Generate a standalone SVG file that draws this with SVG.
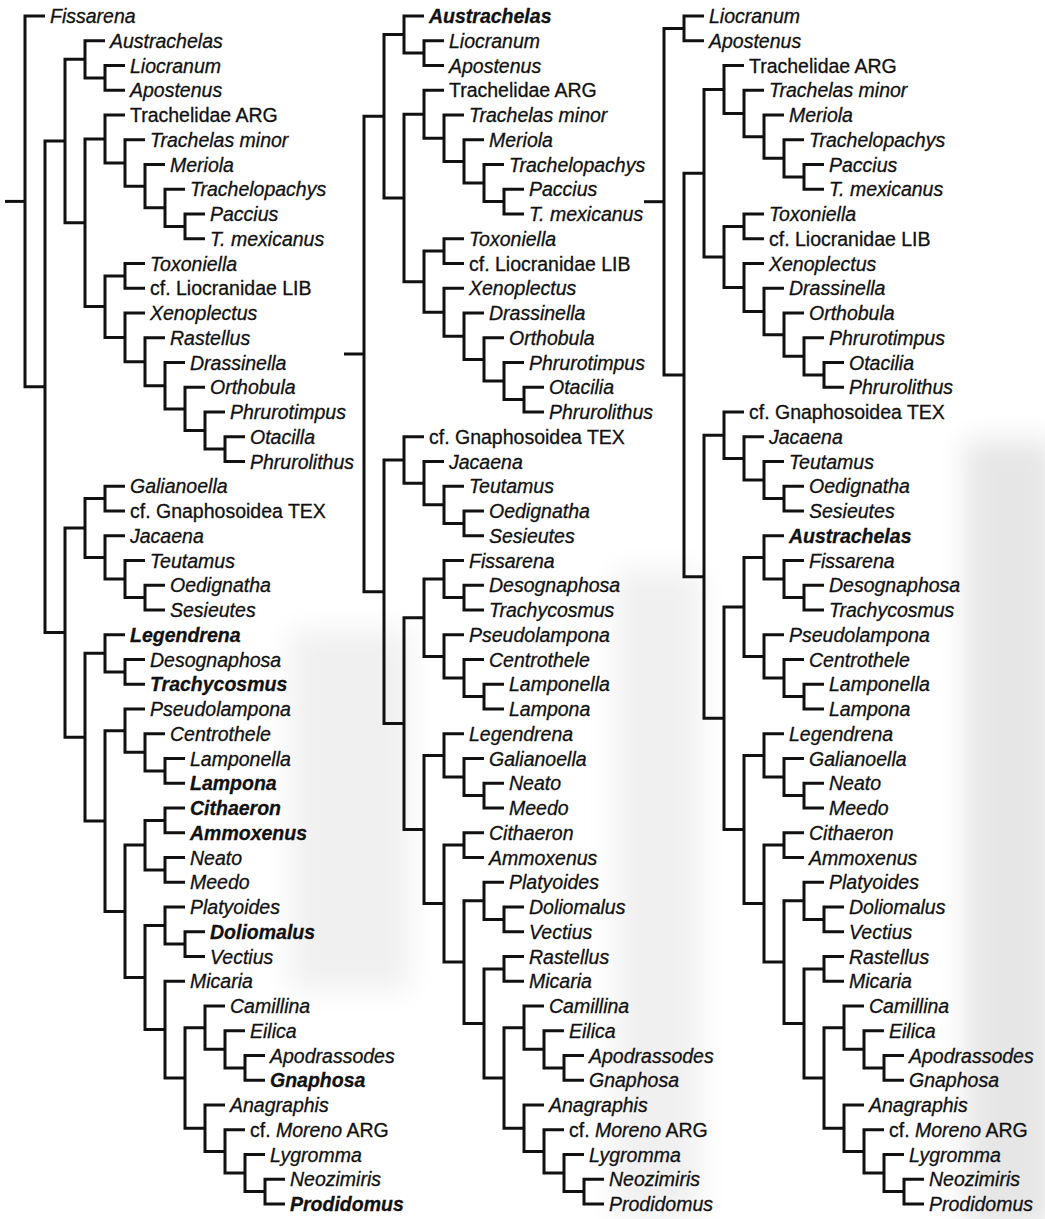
<svg xmlns="http://www.w3.org/2000/svg" width="1045" height="1219" viewBox="0 0 1045 1219">
<style>
text{font-family:"Liberation Sans",Arial,sans-serif;font-size:19.5px;fill:#111;stroke:#111;stroke-width:0.3px}
.i{font-style:italic}
.b{font-style:italic;font-weight:bold}
.n{font-style:normal}
.c path{fill:none;stroke:#111;stroke-width:3;stroke-linejoin:miter;stroke-linecap:butt}
</style>
<defs>
<filter id="blur" x="-20%" y="-20%" width="140%" height="140%"><feGaussianBlur stdDeviation="14"/></filter>
</defs>
<rect width="1045" height="1219" fill="#ffffff"/>
<g id="shading" filter="url(#blur)">
<rect x="965" y="440" width="90" height="790" fill="#e6e6e6"/>
<rect x="290" y="630" width="120" height="360" fill="#f0f0f0"/>
<rect x="615" y="570" width="85" height="650" fill="#f0f0f0"/>
</g>
<g id="connectors" class="c">
<g id="tree1-edges">
<path d="M5 201.4H25"/>
<path d="M45 16H25V386.8H45"/>
<path d="M65 141.1H45V632.6H65"/>
<path d="M85 59.3H65V222.8H85"/>
<path d="M105 40.75H85V77.9H105"/>
<path d="M125 65.5H105V90.25H125"/>
<path d="M105 139H85V306.6H105"/>
<path d="M125 115H105V163H125"/>
<path d="M145 139.75H125V186.2H145"/>
<path d="M165 164.5H145V207.8H165"/>
<path d="M185 189.25H165V226.4H185"/>
<path d="M205 214H185V238.75H205"/>
<path d="M125 275.9H105V337.4H125"/>
<path d="M145 263.5H125V288.25H145"/>
<path d="M145 313H125V361.7H145"/>
<path d="M165 337.75H145V385.7H165"/>
<path d="M185 362.5H165V408.9H185"/>
<path d="M205 387.25H185V430.6H205"/>
<path d="M225 412H205V449.1H225"/>
<path d="M245 436.75H225V461.5H245"/>
<path d="M85 528H65V737.2H85"/>
<path d="M105 498.6H85V557.4H105"/>
<path d="M125 486.25H105V511H125"/>
<path d="M125 535.75H105V579.1H125"/>
<path d="M145 560.5H125V597.6H145"/>
<path d="M165 585.25H145V610H165"/>
<path d="M105 653.3H85V821H105"/>
<path d="M125 634.75H105V671.9H125"/>
<path d="M145 659.5H125V684.25H145"/>
<path d="M125 730.7H105V911.4H125"/>
<path d="M145 709H125V752.3H145"/>
<path d="M165 733.75H145V770.9H165"/>
<path d="M185 758.5H165V783.25H185"/>
<path d="M145 845.1H125V977.6H145"/>
<path d="M165 820.4H145V869.9H165"/>
<path d="M185 808H165V832.75H185"/>
<path d="M185 857.5H165V882.25H185"/>
<path d="M165 925.6H145V1029.6H165"/>
<path d="M185 907H165V944.1H185"/>
<path d="M205 931.75H185V956.5H205"/>
<path d="M185 981.25H165V1077.9H185"/>
<path d="M205 1027.7H185V1128.2H205"/>
<path d="M225 1006H205V1049.3H225"/>
<path d="M245 1030.75H225V1067.9H245"/>
<path d="M265 1055.5H245V1080.25H265"/>
<path d="M225 1105H205V1151.4H225"/>
<path d="M245 1129.75H225V1173.1H245"/>
<path d="M265 1154.5H245V1191.6H265"/>
<path d="M285 1179.25H265V1204H285"/>
</g>
<g id="tree2-edges">
<path d="M344 354H364"/>
<path d="M384 116.3H364V591.8H384"/>
<path d="M404 34.6H384V198H404"/>
<path d="M424 16H404V53.1H424"/>
<path d="M444 40.75H424V65.5H444"/>
<path d="M424 114.2H404V281.7H424"/>
<path d="M444 90.25H424V138.2H444"/>
<path d="M464 115H444V161.4H464"/>
<path d="M484 139.75H464V183.1H484"/>
<path d="M504 164.5H484V201.6H504"/>
<path d="M524 189.25H504V214H524"/>
<path d="M444 251.1H424V312.2H444"/>
<path d="M464 238.75H444V263.5H464"/>
<path d="M464 288.25H444V336.2H464"/>
<path d="M484 313H464V359.4H484"/>
<path d="M504 337.75H484V381.1H504"/>
<path d="M524 362.5H504V399.6H524"/>
<path d="M544 387.25H524V412H544"/>
<path d="M404 460H384V723.6H404"/>
<path d="M424 436.75H404V483.2H424"/>
<path d="M444 461.5H424V504.8H444"/>
<path d="M464 486.25H444V523.4H464"/>
<path d="M484 511H464V535.75H484"/>
<path d="M424 617.7H404V829.5H424"/>
<path d="M444 579.1H424V656.4H444"/>
<path d="M464 560.5H444V597.6H464"/>
<path d="M484 585.25H464V610H484"/>
<path d="M464 634.75H444V678.1H464"/>
<path d="M484 659.5H464V696.6H484"/>
<path d="M504 684.25H484V709H504"/>
<path d="M444 755.4H424V903.6H444"/>
<path d="M464 733.75H444V777.1H464"/>
<path d="M484 758.5H464V795.6H484"/>
<path d="M504 783.25H484V808H504"/>
<path d="M464 845.1H444V962.1H464"/>
<path d="M484 832.75H464V857.5H484"/>
<path d="M484 900.8H464V1023.4H484"/>
<path d="M504 882.25H484V919.4H504"/>
<path d="M524 907H504V931.75H524"/>
<path d="M504 968.9H484V1077.9H504"/>
<path d="M524 956.5H504V981.25H524"/>
<path d="M524 1027.7H504V1128.2H524"/>
<path d="M544 1006H524V1049.3H544"/>
<path d="M564 1030.75H544V1067.9H564"/>
<path d="M584 1055.5H564V1080.25H584"/>
<path d="M544 1105H524V1151.4H544"/>
<path d="M564 1129.75H544V1173.1H564"/>
<path d="M584 1154.5H564V1191.6H584"/>
<path d="M604 1179.25H584V1204H604"/>
</g>
<g id="tree3-edges">
<path d="M644 201.7H664"/>
<path d="M684 28.4H664V375H684"/>
<path d="M704 16H684V40.75H704"/>
<path d="M704 173.2H684V576.7H704"/>
<path d="M724 89.5H704V256.9H724"/>
<path d="M744 65.5H724V113.5H744"/>
<path d="M764 90.25H744V136.7H764"/>
<path d="M784 115H764V158.3H784"/>
<path d="M804 139.75H784V176.9H804"/>
<path d="M824 164.5H804V189.25H824"/>
<path d="M744 226.4H724V287.5H744"/>
<path d="M764 214H744V238.75H764"/>
<path d="M764 263.5H744V311.5H764"/>
<path d="M784 288.25H764V334.7H784"/>
<path d="M804 313H784V356.3H804"/>
<path d="M824 337.75H804V374.9H824"/>
<path d="M844 362.5H824V387.25H844"/>
<path d="M724 435.2H704V718.2H724"/>
<path d="M744 412H724V458.4H744"/>
<path d="M764 436.75H744V480.1H764"/>
<path d="M784 461.5H764V498.6H784"/>
<path d="M804 486.25H784V511H804"/>
<path d="M744 606.9H724V829.5H744"/>
<path d="M764 557.4H744V656.4H764"/>
<path d="M784 535.75H764V579.1H784"/>
<path d="M804 560.5H784V597.6H804"/>
<path d="M824 585.25H804V610H824"/>
<path d="M784 634.75H764V678.1H784"/>
<path d="M804 659.5H784V696.6H804"/>
<path d="M824 684.25H804V709H824"/>
<path d="M764 755.4H744V903.6H764"/>
<path d="M784 733.75H764V777.1H784"/>
<path d="M804 758.5H784V795.6H804"/>
<path d="M824 783.25H804V808H824"/>
<path d="M784 845.1H764V962.1H784"/>
<path d="M804 832.75H784V857.5H804"/>
<path d="M804 900.8H784V1023.4H804"/>
<path d="M824 882.25H804V919.4H824"/>
<path d="M844 907H824V931.75H844"/>
<path d="M824 968.9H804V1077.9H824"/>
<path d="M844 956.5H824V981.25H844"/>
<path d="M844 1027.7H824V1128.2H844"/>
<path d="M864 1006H844V1049.3H864"/>
<path d="M884 1030.75H864V1067.9H884"/>
<path d="M904 1055.5H884V1080.25H904"/>
<path d="M864 1105H844V1151.4H864"/>
<path d="M884 1129.75H864V1173.1H884"/>
<path d="M904 1154.5H884V1191.6H904"/>
<path d="M924 1179.25H904V1204H924"/>
</g>
</g>
<g id="tree1-labels">
<g id="t1-fissarena"><text class="i" x="50" y="23">Fissarena</text></g>
<g id="t1-austrachelas"><text class="i" x="110" y="47.75">Austrachelas</text></g>
<g id="t1-liocranum"><text class="i" x="130" y="72.5">Liocranum</text></g>
<g id="t1-apostenus"><text class="i" x="130" y="97.25">Apostenus</text></g>
<g id="t1-trachelidae"><text class="n" x="130" y="122">Trachelidae ARG</text></g>
<g id="t1-trachelas"><text class="i" x="150" y="146.75">Trachelas minor</text></g>
<g id="t1-meriola"><text class="i" x="170" y="171.5">Meriola</text></g>
<g id="t1-trachelopachys"><text class="i" x="190" y="196.25">Trachelopachys</text></g>
<g id="t1-paccius"><text class="i" x="210" y="221">Paccius</text></g>
<g id="t1-tmexicanus"><text class="i" x="210" y="245.75">T. mexicanus</text></g>
<g id="t1-toxoniella"><text class="i" x="150" y="270.5">Toxoniella</text></g>
<g id="t1-liocranidae"><text class="n" x="150" y="295.25">cf. Liocranidae LIB</text></g>
<g id="t1-xenoplectus"><text class="i" x="150" y="320">Xenoplectus</text></g>
<g id="t1-rastellus"><text class="i" x="170" y="344.75">Rastellus</text></g>
<g id="t1-drassinella"><text class="i" x="190" y="369.5">Drassinella</text></g>
<g id="t1-orthobula"><text class="i" x="210" y="394.25">Orthobula</text></g>
<g id="t1-phrurotimpus"><text class="i" x="230" y="419">Phrurotimpus</text></g>
<g id="t1-otacilla"><text class="i" x="250" y="443.75">Otacilla</text></g>
<g id="t1-phrurolithus"><text class="i" x="250" y="468.5">Phrurolithus</text></g>
<g id="t1-galianoella"><text class="i" x="130" y="493.25">Galianoella</text></g>
<g id="t1-gnaphosoidea"><text class="n" x="130" y="518">cf. Gnaphosoidea TEX</text></g>
<g id="t1-jacaena"><text class="i" x="130" y="542.75">Jacaena</text></g>
<g id="t1-teutamus"><text class="i" x="150" y="567.5">Teutamus</text></g>
<g id="t1-oedignatha"><text class="i" x="170" y="592.25">Oedignatha</text></g>
<g id="t1-sesieutes"><text class="i" x="170" y="617">Sesieutes</text></g>
<g id="t1-legendrena"><text class="b" x="130" y="641.75">Legendrena</text></g>
<g id="t1-desognaphosa"><text class="i" x="150" y="666.5">Desognaphosa</text></g>
<g id="t1-trachycosmus"><text class="b" x="150" y="691.25">Trachycosmus</text></g>
<g id="t1-pseudolampona"><text class="i" x="150" y="716">Pseudolampona</text></g>
<g id="t1-centrothele"><text class="i" x="170" y="740.75">Centrothele</text></g>
<g id="t1-lamponella"><text class="i" x="190" y="765.5">Lamponella</text></g>
<g id="t1-lampona"><text class="b" x="190" y="790.25">Lampona</text></g>
<g id="t1-cithaeron"><text class="b" x="190" y="815">Cithaeron</text></g>
<g id="t1-ammoxenus"><text class="b" x="190" y="839.75">Ammoxenus</text></g>
<g id="t1-neato"><text class="i" x="190" y="864.5">Neato</text></g>
<g id="t1-meedo"><text class="i" x="190" y="889.25">Meedo</text></g>
<g id="t1-platyoides"><text class="i" x="190" y="914">Platyoides</text></g>
<g id="t1-doliomalus"><text class="b" x="210" y="938.75">Doliomalus</text></g>
<g id="t1-vectius"><text class="i" x="210" y="963.5">Vectius</text></g>
<g id="t1-micaria"><text class="i" x="190" y="988.25">Micaria</text></g>
<g id="t1-camillina"><text class="i" x="230" y="1013">Camillina</text></g>
<g id="t1-eilica"><text class="i" x="250" y="1037.75">Eilica</text></g>
<g id="t1-apodrassodes"><text class="i" x="270" y="1062.5">Apodrassodes</text></g>
<g id="t1-gnaphosa"><text class="b" x="270" y="1087.25">Gnaphosa</text></g>
<g id="t1-anagraphis"><text class="i" x="230" y="1112">Anagraphis</text></g>
<g id="t1-moreno"><text class="n" x="250" y="1136.75">cf. <tspan class="i">Moreno</tspan> ARG</text></g>
<g id="t1-lygromma"><text class="i" x="270" y="1161.5">Lygromma</text></g>
<g id="t1-neozimiris"><text class="i" x="290" y="1186.25">Neozimiris</text></g>
<g id="t1-prodidomus"><text class="b" x="290" y="1211">Prodidomus</text></g>
</g>
<g id="tree2-labels">
<g id="t2-austrachelas"><text class="b" x="429" y="23">Austrachelas</text></g>
<g id="t2-liocranum"><text class="i" x="449" y="47.75">Liocranum</text></g>
<g id="t2-apostenus"><text class="i" x="449" y="72.5">Apostenus</text></g>
<g id="t2-trachelidae"><text class="n" x="449" y="97.25">Trachelidae ARG</text></g>
<g id="t2-trachelas"><text class="i" x="469" y="122">Trachelas minor</text></g>
<g id="t2-meriola"><text class="i" x="489" y="146.75">Meriola</text></g>
<g id="t2-trachelopachys"><text class="i" x="509" y="171.5">Trachelopachys</text></g>
<g id="t2-paccius"><text class="i" x="529" y="196.25">Paccius</text></g>
<g id="t2-tmexicanus"><text class="i" x="529" y="221">T. mexicanus</text></g>
<g id="t2-toxoniella"><text class="i" x="469" y="245.75">Toxoniella</text></g>
<g id="t2-liocranidae"><text class="n" x="469" y="270.5">cf. Liocranidae LIB</text></g>
<g id="t2-xenoplectus"><text class="i" x="469" y="295.25">Xenoplectus</text></g>
<g id="t2-drassinella"><text class="i" x="489" y="320">Drassinella</text></g>
<g id="t2-orthobula"><text class="i" x="509" y="344.75">Orthobula</text></g>
<g id="t2-phrurotimpus"><text class="i" x="529" y="369.5">Phrurotimpus</text></g>
<g id="t2-otacilia"><text class="i" x="549" y="394.25">Otacilia</text></g>
<g id="t2-phrurolithus"><text class="i" x="549" y="419">Phrurolithus</text></g>
<g id="t2-gnaphosoidea"><text class="n" x="429" y="443.75">cf. Gnaphosoidea TEX</text></g>
<g id="t2-jacaena"><text class="i" x="449" y="468.5">Jacaena</text></g>
<g id="t2-teutamus"><text class="i" x="469" y="493.25">Teutamus</text></g>
<g id="t2-oedignatha"><text class="i" x="489" y="518">Oedignatha</text></g>
<g id="t2-sesieutes"><text class="i" x="489" y="542.75">Sesieutes</text></g>
<g id="t2-fissarena"><text class="i" x="469" y="567.5">Fissarena</text></g>
<g id="t2-desognaphosa"><text class="i" x="489" y="592.25">Desognaphosa</text></g>
<g id="t2-trachycosmus"><text class="i" x="489" y="617">Trachycosmus</text></g>
<g id="t2-pseudolampona"><text class="i" x="469" y="641.75">Pseudolampona</text></g>
<g id="t2-centrothele"><text class="i" x="489" y="666.5">Centrothele</text></g>
<g id="t2-lamponella"><text class="i" x="509" y="691.25">Lamponella</text></g>
<g id="t2-lampona"><text class="i" x="509" y="716">Lampona</text></g>
<g id="t2-legendrena"><text class="i" x="469" y="740.75">Legendrena</text></g>
<g id="t2-galianoella"><text class="i" x="489" y="765.5">Galianoella</text></g>
<g id="t2-neato"><text class="i" x="509" y="790.25">Neato</text></g>
<g id="t2-meedo"><text class="i" x="509" y="815">Meedo</text></g>
<g id="t2-cithaeron"><text class="i" x="489" y="839.75">Cithaeron</text></g>
<g id="t2-ammoxenus"><text class="i" x="489" y="864.5">Ammoxenus</text></g>
<g id="t2-platyoides"><text class="i" x="509" y="889.25">Platyoides</text></g>
<g id="t2-doliomalus"><text class="i" x="529" y="914">Doliomalus</text></g>
<g id="t2-vectius"><text class="i" x="529" y="938.75">Vectius</text></g>
<g id="t2-rastellus"><text class="i" x="529" y="963.5">Rastellus</text></g>
<g id="t2-micaria"><text class="i" x="529" y="988.25">Micaria</text></g>
<g id="t2-camillina"><text class="i" x="549" y="1013">Camillina</text></g>
<g id="t2-eilica"><text class="i" x="569" y="1037.75">Eilica</text></g>
<g id="t2-apodrassodes"><text class="i" x="589" y="1062.5">Apodrassodes</text></g>
<g id="t2-gnaphosa"><text class="i" x="589" y="1087.25">Gnaphosa</text></g>
<g id="t2-anagraphis"><text class="i" x="549" y="1112">Anagraphis</text></g>
<g id="t2-moreno"><text class="n" x="569" y="1136.75">cf. <tspan class="i">Moreno</tspan> ARG</text></g>
<g id="t2-lygromma"><text class="i" x="589" y="1161.5">Lygromma</text></g>
<g id="t2-neozimiris"><text class="i" x="609" y="1186.25">Neozimiris</text></g>
<g id="t2-prodidomus"><text class="i" x="609" y="1211">Prodidomus</text></g>
</g>
<g id="tree3-labels">
<g id="t3-liocranum"><text class="i" x="709" y="23">Liocranum</text></g>
<g id="t3-apostenus"><text class="i" x="709" y="47.75">Apostenus</text></g>
<g id="t3-trachelidae"><text class="n" x="749" y="72.5">Trachelidae ARG</text></g>
<g id="t3-trachelas"><text class="i" x="769" y="97.25">Trachelas minor</text></g>
<g id="t3-meriola"><text class="i" x="789" y="122">Meriola</text></g>
<g id="t3-trachelopachys"><text class="i" x="809" y="146.75">Trachelopachys</text></g>
<g id="t3-paccius"><text class="i" x="829" y="171.5">Paccius</text></g>
<g id="t3-tmexicanus"><text class="i" x="829" y="196.25">T. mexicanus</text></g>
<g id="t3-toxoniella"><text class="i" x="769" y="221">Toxoniella</text></g>
<g id="t3-liocranidae"><text class="n" x="769" y="245.75">cf. Liocranidae LIB</text></g>
<g id="t3-xenoplectus"><text class="i" x="769" y="270.5">Xenoplectus</text></g>
<g id="t3-drassinella"><text class="i" x="789" y="295.25">Drassinella</text></g>
<g id="t3-orthobula"><text class="i" x="809" y="320">Orthobula</text></g>
<g id="t3-phrurotimpus"><text class="i" x="829" y="344.75">Phrurotimpus</text></g>
<g id="t3-otacilia"><text class="i" x="849" y="369.5">Otacilia</text></g>
<g id="t3-phrurolithus"><text class="i" x="849" y="394.25">Phrurolithus</text></g>
<g id="t3-gnaphosoidea"><text class="n" x="749" y="419">cf. Gnaphosoidea TEX</text></g>
<g id="t3-jacaena"><text class="i" x="769" y="443.75">Jacaena</text></g>
<g id="t3-teutamus"><text class="i" x="789" y="468.5">Teutamus</text></g>
<g id="t3-oedignatha"><text class="i" x="809" y="493.25">Oedignatha</text></g>
<g id="t3-sesieutes"><text class="i" x="809" y="518">Sesieutes</text></g>
<g id="t3-austrachelas"><text class="b" x="789" y="542.75">Austrachelas</text></g>
<g id="t3-fissarena"><text class="i" x="809" y="567.5">Fissarena</text></g>
<g id="t3-desognaphosa"><text class="i" x="829" y="592.25">Desognaphosa</text></g>
<g id="t3-trachycosmus"><text class="i" x="829" y="617">Trachycosmus</text></g>
<g id="t3-pseudolampona"><text class="i" x="789" y="641.75">Pseudolampona</text></g>
<g id="t3-centrothele"><text class="i" x="809" y="666.5">Centrothele</text></g>
<g id="t3-lamponella"><text class="i" x="829" y="691.25">Lamponella</text></g>
<g id="t3-lampona"><text class="i" x="829" y="716">Lampona</text></g>
<g id="t3-legendrena"><text class="i" x="789" y="740.75">Legendrena</text></g>
<g id="t3-galianoella"><text class="i" x="809" y="765.5">Galianoella</text></g>
<g id="t3-neato"><text class="i" x="829" y="790.25">Neato</text></g>
<g id="t3-meedo"><text class="i" x="829" y="815">Meedo</text></g>
<g id="t3-cithaeron"><text class="i" x="809" y="839.75">Cithaeron</text></g>
<g id="t3-ammoxenus"><text class="i" x="809" y="864.5">Ammoxenus</text></g>
<g id="t3-platyoides"><text class="i" x="829" y="889.25">Platyoides</text></g>
<g id="t3-doliomalus"><text class="i" x="849" y="914">Doliomalus</text></g>
<g id="t3-vectius"><text class="i" x="849" y="938.75">Vectius</text></g>
<g id="t3-rastellus"><text class="i" x="849" y="963.5">Rastellus</text></g>
<g id="t3-micaria"><text class="i" x="849" y="988.25">Micaria</text></g>
<g id="t3-camillina"><text class="i" x="869" y="1013">Camillina</text></g>
<g id="t3-eilica"><text class="i" x="889" y="1037.75">Eilica</text></g>
<g id="t3-apodrassodes"><text class="i" x="909" y="1062.5">Apodrassodes</text></g>
<g id="t3-gnaphosa"><text class="i" x="909" y="1087.25">Gnaphosa</text></g>
<g id="t3-anagraphis"><text class="i" x="869" y="1112">Anagraphis</text></g>
<g id="t3-moreno"><text class="n" x="889" y="1136.75">cf. <tspan class="i">Moreno</tspan> ARG</text></g>
<g id="t3-lygromma"><text class="i" x="909" y="1161.5">Lygromma</text></g>
<g id="t3-neozimiris"><text class="i" x="929" y="1186.25">Neozimiris</text></g>
<g id="t3-prodidomus"><text class="i" x="929" y="1211">Prodidomus</text></g>
</g>
</svg>
